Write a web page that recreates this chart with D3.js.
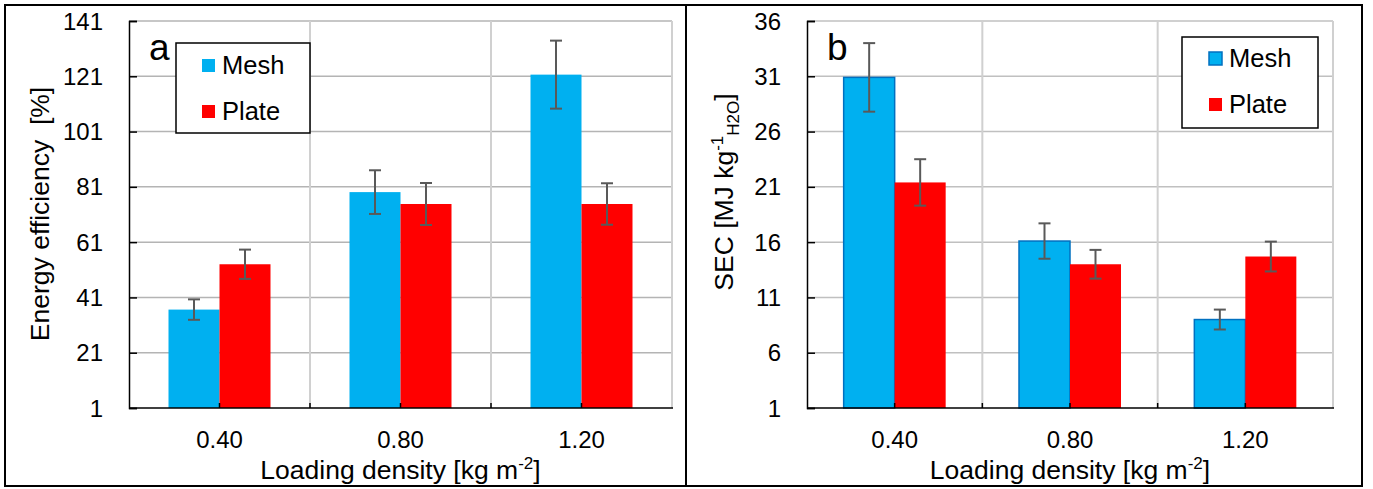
<!DOCTYPE html>
<html><head><meta charset="utf-8">
<script src="https://cdn.jsdelivr.net/npm/d3@7"></script>
<style>
html,body{margin:0;padding:0;background:#fff;}
svg text{font-family:"Liberation Sans",Arial,sans-serif;fill:#000;}
</style></head>
<body>
<svg id="chart" width="1373" height="489"></svg>
<script>
const categories = ["0.40", "0.80", "1.20"];
const seriesNames = ["Mesh", "Plate"];
const effMesh = [36.6, 79.1, 121.6];
const effMeshErr = [3.7, 7.9, 12.3];
const effPlate = [53.0, 74.8, 74.8];
const effPlateErr = [5.3, 7.6, 7.5];
const secMesh = [30.9, 16.1, 9.0];
const secMeshErr = [3.1, 1.6, 0.9];
const secPlate = [21.4, 14.0, 14.7];
const secPlateErr = [2.1, 1.3, 1.35];
const effTicks = [1, 21, 41, 61, 81, 101, 121, 141];
const secTicks = [1, 6, 11, 16, 21, 26, 31, 36];

const colors = {Mesh: "#00B0F0", Plate: "#FF0000"};
const svg = d3.select("#chart");

// outer frame
svg.append("rect").attr("x", 5).attr("y", 5).attr("width", 1357).attr("height", 481)
  .attr("fill", "none").attr("stroke", "#000").attr("stroke-width", 2);
svg.append("line").attr("x1", 686).attr("x2", 686).attr("y1", 5).attr("y2", 486)
  .attr("stroke", "#000").attr("stroke-width", 2);

function panel(opt) {
  const g = svg.append("g");
  const x = d3.scaleBand().domain(categories).range([opt.x0, opt.x1]).padding(0);
  const bw = opt.barW;
  const xs = d3.scaleBand().domain(seriesNames)
    .range([x.bandwidth() / 2 - bw, x.bandwidth() / 2 + bw]).padding(0);
  const y = d3.scaleLinear().domain([opt.ticks[0], opt.ticks[opt.ticks.length - 1]]).range([408, 21]);

  // horizontal gridlines
  g.append("g").selectAll("line").data(opt.ticks.slice(1)).join("line")
    .attr("x1", opt.x0).attr("x2", opt.x1)
    .attr("y1", d => y(d)).attr("y2", d => y(d))
    .attr("stroke", opt.hgrid).attr("stroke-width", 1.5);
  // vertical gridlines at band edges
  const edges = categories.slice(1).map(c => x(c)).concat([opt.x1]);
  g.append("g").selectAll("line").data(edges).join("line")
    .attr("x1", d => d).attr("x2", d => d)
    .attr("y1", y(opt.ticks[opt.ticks.length - 1])).attr("y2", 408)
    .attr("stroke", "#d0d0d0").attr("stroke-width", 2);

  // bars
  const rows = [];
  categories.forEach((c, i) => {
    rows.push({c, s: "Mesh", v: opt.mesh[i], e: opt.meshErr[i]});
    rows.push({c, s: "Plate", v: opt.plate[i], e: opt.plateErr[i]});
  });
  g.append("g").selectAll("rect").data(rows).join("rect")
    .attr("x", d => x(d.c) + xs(d.s))
    .attr("width", xs.bandwidth())
    .attr("y", d => y(d.v))
    .attr("height", d => y(opt.ticks[0]) - y(d.v))
    .attr("fill", d => colors[d.s])
    .attr("stroke", d => (d.s === "Mesh" && opt.meshStroke) ? opt.meshStroke : "none")
    .attr("stroke-width", 1.5);

  // error bars
  const eg = g.append("g").attr("stroke", "#595959").attr("stroke-width", 2);
  rows.forEach(d => {
    const cx = x(d.c) + xs(d.s) + xs.bandwidth() / 2;
    eg.append("line").attr("x1", cx).attr("x2", cx).attr("y1", y(d.v + d.e)).attr("y2", y(d.v - d.e));
    eg.append("line").attr("x1", cx - 6).attr("x2", cx + 6).attr("y1", y(d.v + d.e)).attr("y2", y(d.v + d.e));
    eg.append("line").attr("x1", cx - 6).attr("x2", cx + 6).attr("y1", y(d.v - d.e)).attr("y2", y(d.v - d.e));
  });

  // y axis
  const ya = g.append("g").attr("transform", `translate(${opt.x0},0)`)
    .call(d3.axisRight(y).tickValues(opt.ticks).tickSize(8).tickFormat(""));
  ya.select(".domain").attr("stroke", "#000").attr("stroke-width", 1.5);
  ya.selectAll(".tick line").attr("stroke", "#000").attr("stroke-width", 1.5);
  g.append("g").selectAll("text").data(opt.ticks).join("text")
    .attr("x", opt.x0 - 26).attr("y", d => y(d)).attr("dy", "0.36em")
    .attr("text-anchor", "end").attr("font-size", 24).text(d => d);

  // x axis
  g.append("line").attr("x1", opt.x0).attr("x2", opt.x1 + 1).attr("y1", 408).attr("y2", 408)
    .attr("stroke", "#000").attr("stroke-width", 1.5);
  const xticks = categories.map(c => x(c) + x.bandwidth() / 2).concat(edges.slice(0, 2));
  g.append("g").selectAll("line").data(xticks).join("line")
    .attr("x1", d => d).attr("x2", d => d).attr("y1", 408).attr("y2", 403)
    .attr("stroke", "#000").attr("stroke-width", 1.5);
  g.append("g").selectAll("text").data(categories).join("text")
    .attr("x", d => x(d) + x.bandwidth() / 2).attr("y", 448)
    .attr("text-anchor", "middle").attr("font-size", 24).text(d => d);

  // x title
  const xt = g.append("text").attr("x", (opt.x0 + opt.x1) / 2).attr("y", 479)
    .attr("text-anchor", "middle").attr("font-size", 26.5);
  xt.append("tspan").text("Loading density [kg m");
  xt.append("tspan").attr("dy", -10).attr("font-size", 17).text("-2");
  xt.append("tspan").attr("dy", 10).text("]");

  // panel letter
  g.append("text").attr("x", opt.x0 + 20).attr("y", 60).attr("font-size", 37).text(opt.letter);

  // legend
  const lg = g.append("g");
  lg.append("rect").attr("x", opt.leg.x).attr("y", opt.leg.y).attr("width", opt.leg.w).attr("height", opt.leg.h)
    .attr("fill", "#fff").attr("stroke", "#000").attr("stroke-width", 1.5);
  seriesNames.forEach((s, i) => {
    const sy = opt.leg.y + opt.leg.sy0 + i * 46;
    lg.append("rect").attr("x", opt.leg.x + opt.leg.sx).attr("y", sy).attr("width", 13).attr("height", 13)
      .attr("fill", colors[s])
      .attr("stroke", (s === "Mesh" && opt.meshStroke) ? opt.meshStroke : "none").attr("stroke-width", 1.5);
    lg.append("text").attr("x", opt.leg.x + opt.leg.sx + 20).attr("y", sy + 15)
      .attr("font-size", 25.5).text(s);
  });
  return g;
}

const pa = panel({x0: 129, x1: 672, barW: 51, ticks: effTicks, mesh: effMesh, meshErr: effMeshErr,
  plate: effPlate, plateErr: effPlateErr, hgrid: "#b4b4b4", meshStroke: null, letter: "a",
  leg: {x: 176, y: 43, w: 134, h: 90, sx: 26, sy0: 16}});
const pb = panel({x0: 807, x1: 1333, barW: 51, ticks: secTicks, mesh: secMesh, meshErr: secMeshErr,
  plate: secPlate, plateErr: secPlateErr, hgrid: "#c0c0c0", meshStroke: "#0070C0", letter: "b",
  leg: {x: 1182, y: 37, w: 136, h: 91, sx: 27, sy0: 15}});

// y titles
svg.append("text").attr("transform", "translate(49,214) rotate(-90)")
  .attr("text-anchor", "middle").attr("font-size", 26.5).attr("xml:space", "preserve")
  .style("white-space", "pre").text("Energy efficiency  [%]");
const yt = svg.append("text").attr("transform", "translate(733,192) rotate(-90)")
  .attr("text-anchor", "middle").attr("font-size", 26.5);
yt.append("tspan").text("SEC [MJ kg");
yt.append("tspan").attr("dy", -10).attr("font-size", 17).text("-1");
yt.append("tspan").attr("dy", 16).attr("font-size", 17).text("H2O");
yt.append("tspan").attr("dy", -6).text("]");
</script>
</body></html>
